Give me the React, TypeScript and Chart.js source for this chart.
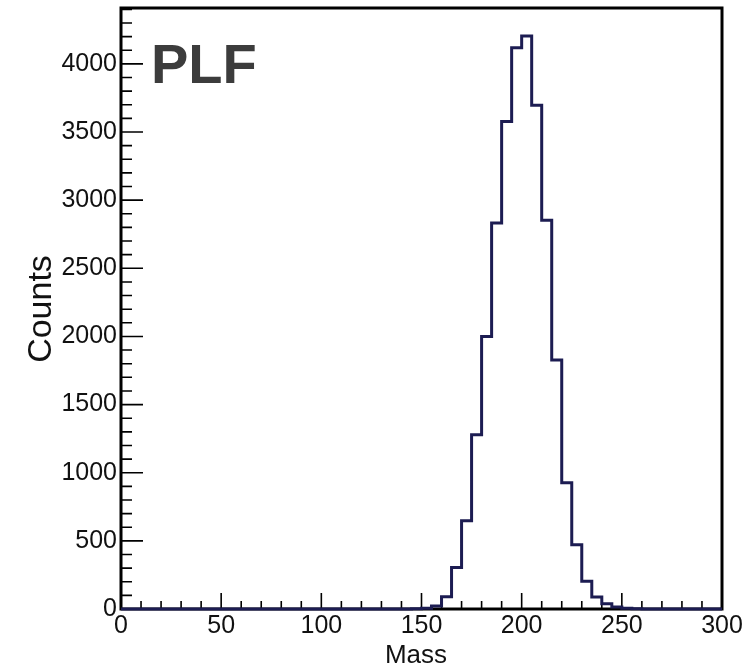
import React, { useEffect, useRef } from "react";
import { Chart, registerables } from "chart.js";

Chart.register(...registerables);

// Histogram of Mass, 5-unit bins from 0 to 300 (60 bins)
const binLowEdges: number[] = [
  0, 5, 10, 15, 20, 25, 30, 35, 40, 45,
  50, 55, 60, 65, 70, 75, 80, 85, 90, 95,
  100, 105, 110, 115, 120, 125, 130, 135, 140, 145,
  150, 155, 160, 165, 170, 175, 180, 185, 190, 195,
  200, 205, 210, 215, 220, 225, 230, 235, 240, 245,
  250, 255, 260, 265, 270, 275, 280, 285, 290, 295,
];
const counts: number[] = [
  0, 0, 0, 0, 0, 0, 0, 0, 0, 0,
  0, 0, 0, 0, 0, 0, 0, 0, 0, 0,
  0, 0, 0, 0, 0, 0, 0, 0, 0, 2,
  6, 22, 90, 305, 648, 1278, 2000, 2832, 3577, 4118,
  4204, 3697, 2852, 1827, 927, 472, 203, 88, 38, 14,
  6, 2, 0, 0, 0, 0, 0, 0, 0, 0,
];
const xUpperEdge = 300;
const xTickLabels: number[] = [0, 50, 100, 150, 200, 250, 300];
const yTickLabels: number[] = [0, 500, 1000, 1500, 2000, 2500, 3000, 3500, 4000];
const yMax = 4410;
const xMinorStep = 10;
const yMinorStep = 100;

const xTitle = "Mass";
const yTitle = "Counts";
const tag = "PLF";

const FONT = "'Liberation Sans', Arial, Helvetica, sans-serif";

export default function App() {
  const canvasRef = useRef<HTMLCanvasElement | null>(null);

  useEffect(() => {
    document.body.style.margin = "0";
    const canvas = canvasRef.current;
    if (!canvas) return;

    const points = binLowEdges.map((x, i) => ({ x, y: counts[i] }));
    points.push({ x: xUpperEdge, y: counts[counts.length - 1] });

    const framePlugin = {
      id: "rootFrame",
      beforeDatasetsDraw(chart: any) {
        const { ctx, chartArea, scales } = chart;
        const xs = scales.x;
        const ys = scales.y;
        ctx.save();
        ctx.strokeStyle = "#000";
        ctx.lineWidth = 1.6;
        ctx.beginPath();
        for (let v = 0; v <= yMax; v += yMinorStep) {
          const py = ys.getPixelForValue(v);
          const major = yTickLabels.includes(v);
          const len = major ? 22 : 11;
          ctx.moveTo(chartArea.left, py);
          ctx.lineTo(chartArea.left + len, py);
        }
        for (let v = 0; v <= xUpperEdge; v += xMinorStep) {
          const px = xs.getPixelForValue(v);
          const major = xTickLabels.includes(v);
          const len = major ? 16 : 8;
          ctx.moveTo(px, chartArea.bottom);
          ctx.lineTo(px, chartArea.bottom - len);
        }
        ctx.stroke();
        ctx.lineWidth = 3;
        ctx.strokeRect(
          chartArea.left,
          chartArea.top,
          chartArea.right - chartArea.left,
          chartArea.bottom - chartArea.top
        );
        ctx.restore();
      },
      afterDraw(chart: any) {
        const { ctx } = chart;
        ctx.save();
        ctx.fillStyle = "#3c3c3c";
        ctx.font = `bold 56px ${FONT}`;
        ctx.textAlign = "left";
        ctx.textBaseline = "alphabetic";
        ctx.fillText(tag, 151, 83);
        ctx.fillStyle = "#111";
        ctx.font = `26px ${FONT}`;
        ctx.textAlign = "center";
        ctx.fillText(xTitle, 416, 663);
        ctx.translate(51, 309);
        ctx.rotate(-Math.PI / 2);
        ctx.font = `34px ${FONT}`;
        ctx.textAlign = "center";
        ctx.textBaseline = "alphabetic";
        ctx.fillText(yTitle, 0, 0);
        ctx.restore();
      },
    };

    const chart = new Chart(canvas, {
      type: "line",
      data: {
        datasets: [
          {
            data: points,
            stepped: "before",
            borderColor: "#1c1c52",
            borderWidth: 3,
            pointRadius: 0,
            fill: false,
            tension: 0,
            clip: false,
          } as any,
        ],
      },
      options: {
        responsive: false,
        animation: false,
        layout: { padding: { left: 0, top: 8, right: 34, bottom: 0 } },
        plugins: {
          legend: { display: false },
          tooltip: { enabled: false },
        },
        scales: {
          x: {
            type: "linear",
            min: 0,
            max: xUpperEdge,
            grid: { display: false, drawTicks: false },
            border: { display: false },
            afterBuildTicks: (scale: any) => {
              scale.ticks = xTickLabels.map((v) => ({ value: v }));
            },
            afterFit: (scale: any) => {
              scale.height = 58;
              scale.paddingLeft = 0;
              scale.paddingRight = 0;
            },
            ticks: {
              autoSkip: false,
              maxRotation: 0,
              padding: 2,
              color: "#111",
              font: { family: FONT, size: 25 },
              callback: (v: any) => String(v),
            },
          },
          y: {
            type: "linear",
            min: 0,
            max: yMax,
            grid: { display: false, drawTicks: false },
            border: { display: false },
            afterBuildTicks: (scale: any) => {
              scale.ticks = yTickLabels.map((v) => ({ value: v }));
            },
            afterFit: (scale: any) => {
              scale.width = 121;
              scale.paddingTop = 0;
              scale.paddingBottom = 0;
            },
            ticks: {
              autoSkip: false,
              padding: 4,
              color: "#111",
              font: { family: FONT, size: 25 },
              callback: (v: any) => String(v),
            },
          },
        },
      },
      plugins: [framePlugin],
    });

    return () => chart.destroy();
  }, []);

  return (
    <canvas
      ref={canvasRef}
      width={756}
      height={667}
      style={{ display: "block", width: 756, height: 667 }}
    />
  );
}
